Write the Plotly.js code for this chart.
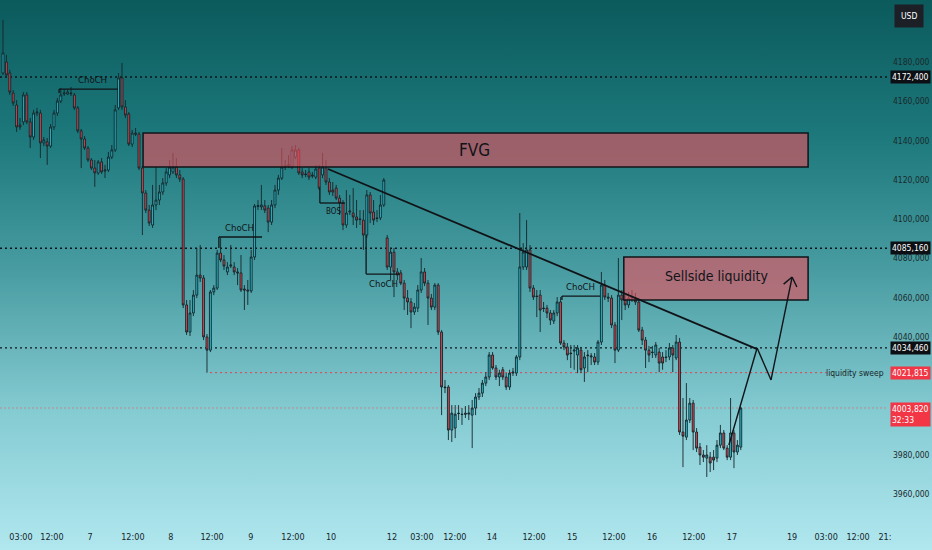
<!DOCTYPE html>
<html>
<head>
<meta charset="utf-8">
<script src="https://cdn.plot.ly/plotly-3.0.1.min.js"></script>
<style>
html,body{margin:0;padding:0;}
#chart{width:932px;height:550px;background:linear-gradient(180deg,#0b5a5c 0%,#1d797c 25%,#4a9ea3 50%,#85cbd2 75%,#b1e7ef 100%);}
</style>
</head>
<body>
<div id="chart"></div>
<script>
// ---- OHLC data (1h candles) ----
const opens = [4174.4,4180,4174.4,4164.2,4158.1,4147.9,4149.5,4163.2,4149.5,4141.8,4154,4154,4138.8,4139.3,4137.2,4146.9,4154,4160.1,4163.7,4163.7,
4164.2,4163.2,4156.6,4144.9,4140.8,4136.2,4130.1,4126,4123.5,4129.1,4124.5,4125,4131.6,4135.2,4156.6,4171.9,4157.1,4153.5,4138.2,4143.8,
4143.3,4126,4113.3,4104.6,4097,4107.2,4109.7,4113.8,4118.4,4122.5,4124,4126.5,4122.5,4120.4,4056.3,4042.5,4052.2,4061.3,4071.5,4070,
4040,4033.3,4062.9,4064.9,4082.7,4079.2,4073.1,4076.1,4075.6,4073.1,4072.6,4064.4,4063.9,4063.4,4080.7,4106.4,4106.2,4106.7,4105.6,4098.5,
4107.2,4114.8,4120.9,4126.5,4127.1,4126.5,4131.6,4135.2,4124,4123,4124,4122.5,4121.4,4126,4122.5,4126,4118.9,4114.8,4115.8,4110.7,
4108.2,4097,4103.6,4103.1,4101.1,4100.1,4099.5,4091.9,4112.3,4103.6,4100.6,4100.6,4107.2,4090.4,4075.6,4083.2,4073.1,4072.6,4067.4,4059.8,
4057.8,4052.7,4054.7,4063.9,4073.1,4067.4,4059.8,4055.2,4066.4,4042.5,4014.5,4014.5,3992.6,3993.6,4001.2,4000.7,4001.2,4000.7,4000.2,4003.8,
4009.4,4011.4,4016.5,4019.6,4030.8,4024.2,4019.6,4023.3,4019.6,4014.5,4021.6,4021.6,4029.8,4075.6,4075.6,4084.3,4064.9,4060.8,4061.3,4054.7,
4054.7,4052.2,4048.1,4052.2,4057.8,4036.9,4034.9,4031.8,4032.8,4030.8,4033.3,4024.2,4030.8,4029.8,4029.8,4027.2,4037.4,4066.4,4060.3,4059.8,
4046.1,4033.3,4061.3,4058.8,4056.3,4059.8,4059.8,4057.8,4043.5,4038.4,4033.3,4032.3,4030.8,4032.3,4029.8,4029.8,4029.8,4034.4,4029.3,4037.4,
3991.6,3989,3997.7,4006.3,3991.6,3983.9,3979.9,3978.3,3978.8,3978.8,3978.3,3984.9,3991.1,3983.4,3978.8,3991.1,3981.4,3983.9];
const highs = [4201.4,4183.6,4176,4165.7,4160.6,4151.5,4164.7,4164.7,4151.5,4155.6,4156.6,4155.6,4141.8,4141.3,4148.4,4155.6,4161.7,4166.8,4166.2,4166.2,
4167.3,4164.2,4157.6,4145.9,4142.3,4137.2,4131.1,4130.1,4130.1,4131.1,4127.6,4134.2,4137.7,4158.1,4174.4,4179.5,4160.6,4154.5,4145.4,4146.4,
4144.4,4127.1,4114.8,4107.2,4117.4,4126.5,4117.4,4120.9,4126,4130.1,4133.7,4131.1,4125,4121.4,4058.8,4058.8,4063.9,4085.3,4086.8,4071.5,
4041.5,4063.9,4066.4,4084.3,4090.4,4081.7,4078.1,4086.8,4078.1,4075.1,4081.7,4066.4,4069,4084.3,4107.7,4109.7,4117.4,4109.7,4107.2,4109.7,
4117.4,4122.5,4136.2,4130.1,4132.6,4137.2,4137.7,4136.2,4126,4125,4126,4124,4127.6,4127.6,4133.7,4130.1,4120.9,4118.9,4117.4,4112.3,
4109.7,4114.8,4112.3,4115.8,4109.7,4104.6,4104.6,4114.8,4113.8,4109.7,4104.6,4112.3,4120.9,4091.9,4085.3,4085.3,4075.1,4074.1,4069,4063.9,
4059.8,4057.3,4066.4,4080.2,4075.1,4069,4061.9,4067.4,4067.4,4043.5,4018.1,4015.5,4005.3,4005.3,4005.3,4003.8,4004.8,4005.3,4007.9,4011.4,
4014,4018.1,4022.1,4032.3,4032.3,4025.7,4023.3,4024.7,4021.6,4023.3,4024.2,4030.8,4103.1,4087.8,4099.5,4086.8,4066.4,4063.9,4063.9,4057.8,
4056.3,4053.7,4053.7,4060.3,4060.3,4038.4,4036.9,4035.9,4035.9,4035.9,4034.9,4032.3,4033.3,4031.8,4031.8,4038.4,4073.1,4069,4062.4,4061.3,
4047.6,4080.2,4063.9,4061.3,4062.9,4063.9,4062.4,4059.8,4045.1,4040,4035.4,4035.4,4037.4,4034.4,4032.3,4033.3,4036.9,4035.9,4041,4039.5,
4008.9,4016.5,4008.9,4007.9,3993.6,3986,3982.4,3984.9,3981.4,3982.4,3987.5,3995.2,3992.6,3984.9,4008.9,3992.6,3987.5,4004.3];
const lows = [4173.4,4171.9,4163.2,4157.6,4144.4,4145.4,4147.9,4148.4,4136.2,4140.3,4152.5,4131.1,4137.2,4127.6,4136.2,4145.4,4152.5,4159.1,4162.7,4163.2,
4162.7,4155.6,4143.8,4126,4135.2,4129.1,4125,4116.4,4122.5,4123,4120.9,4124,4130.6,4134.2,4155.6,4155.6,4151.5,4137.2,4136.7,4142.3,
4125,4091.9,4103.1,4096.5,4095.5,4104.6,4107.2,4112.3,4116.9,4120.9,4123,4120.9,4118.9,4054.7,4041,4040.5,4050.6,4059.8,4068,4038.4,
4021.8,4032.3,4061.3,4063.9,4078.1,4074.1,4071.5,4075.1,4071.5,4066.4,4062.9,4053.7,4056.3,4062.4,4079.2,4104.6,4104.6,4103.1,4093.4,4097,
4105.6,4112.3,4119.9,4125,4126,4125.5,4130.6,4122.5,4120.9,4121.4,4119.9,4120.9,4120.4,4114.8,4120.9,4117.4,4112.3,4111.8,4109.7,4102.1,
4094.4,4095.5,4102.1,4097,4095.5,4097,4084.3,4090.4,4098,4097,4098.5,4099.5,4106.2,4074.1,4069,4060.3,4069,4066.4,4053.7,4051.2,
4044.5,4051.2,4052.7,4062.4,4065.9,4046.1,4053.7,4053.7,4041,4000.2,4011.4,3987.5,3986.5,3988.5,3997.7,3995.2,3998.7,3997.7,3983.4,4000.2,
4007.9,4009.4,4015,4018.1,4023.3,4018.1,4015,4018.1,4013,4013,4020.1,4020.1,4028.2,4074.1,4074.1,4062.9,4058.8,4050.1,4042.5,4052.7,
4049.6,4046.1,4046.6,4050.6,4035.9,4033.3,4028.2,4024.2,4023.3,4021.6,4021.6,4017.1,4022.1,4025.7,4025.7,4025.7,4035.9,4058.8,4057.8,4044.5,
4026.7,4032.3,4048.6,4053.7,4054.7,4057.8,4056.3,4042.5,4035.9,4024.2,4027.2,4029.3,4029.3,4022.1,4023.3,4027.2,4028.2,4022.1,4028.2,3990.1,
3973.7,3987.5,3996.2,3982.4,3981.4,3974.8,3976.3,3968.7,3971.2,3972.2,3976.3,3983.4,3982.4,3977.3,3977.3,3973.2,3979.9,3982.4];
const closes = [4184.6,4173.4,4164.7,4159.1,4146.9,4146.9,4163.2,4149.5,4141.8,4154,4154.5,4138.8,4140.3,4137.2,4146.9,4154,4160.1,4163.2,4164.2,4164.7,
4163.9,4156.6,4144.9,4140.8,4136.2,4130.1,4126,4123.5,4129.1,4124,4125,4131.6,4135.2,4155.6,4171.9,4157.1,4153,4138.2,4143.8,4143.3,
4126,4113.3,4104.6,4098,4107.2,4109.7,4113.8,4118.4,4124,4126.5,4126.5,4122.5,4120.4,4056.3,4042.5,4052.2,4061.3,4071.5,4070,4040,
4033.3,4062.9,4064.9,4082.7,4079.2,4076.1,4075.6,4076.6,4073.1,4072.6,4063.9,4063.9,4063.4,4080.7,4106.7,4106.9,4107.2,4104.6,4098.5,4107.2,
4114.8,4120.9,4126.5,4127.1,4127.6,4135.2,4135.2,4123.5,4122.5,4122.7,4121.4,4122,4125.5,4115.8,4126.5,4118.9,4113.8,4113.8,4110.7,4108.2,
4097,4103.1,4104.1,4101.1,4099.5,4099.8,4091.9,4112.3,4103.1,4099.5,4100.3,4107.2,4119.9,4075.6,4083.2,4073.1,4071.5,4067.4,4059.8,4057.8,
4052.7,4055.2,4063.9,4073.1,4067.4,4059.8,4055.2,4066.4,4042.5,4014.5,4014.2,3992.6,4001.2,4000.7,4001,4000.5,4000.7,4001.2,4003.8,4009.4,
4011.4,4016.5,4019.6,4030.8,4024.2,4019.6,4021.6,4019.6,4014.5,4021.6,4022.1,4029.8,4075.6,4083.2,4084.3,4064.9,4060.3,4060.6,4053.7,4054.5,
4052.2,4048.6,4052.2,4057.8,4036.9,4034.9,4030.8,4031.5,4033.3,4034.4,4023.3,4029.8,4030.5,4030.3,4027.2,4037.4,4066.4,4060.3,4059.8,4046.1,
4033.3,4061.3,4058.8,4056.3,4059.8,4060.3,4057.8,4043.5,4038.4,4033.3,4030.8,4032.1,4035.9,4026.7,4026.7,4029.5,4034.4,4030.8,4037.4,3991.6,
3989.5,3997.7,4006.3,3991.6,3983.4,3979.9,3978.8,3979.9,3975.8,3977.3,3984.9,3991.1,3983.4,3978.8,3991.1,3981.4,3984.9,4003.8];

// ---- axis labels (only the ones visible in the picture) ----
const xTickIdx  = [5.3,14.4,25.6,38.2,49.4,61.5,72.9,85.3,96.5,114.4,123.2,132.9,143.8,156.2,167.4,179.7,190.9,203.2,214.4,232.1,242.1,251.5,259.4];
const xTickText = ['03:00','12:00','7','12:00','8','12:00','9','12:00','10','12','03:00','12:00','14','12:00','15','12:00','16','12:00','17','19','03:00','12:00','21:'];
const yTickVals = [3960,3980,4040,4060,4080,4100,4120,4140,4160,4180];

// ---- marked price levels ----
const blackLevels = [4172.4, 4085.16, 4034.46];
const sweepLevel = 4021.815;
const lastPrice = 4003.82;
const countdown = '32:33';

const idx = opens.map((_, i) => i);
const fmt = v => {
  const s = v.toFixed(3).split('.');
  return s[0] + ',' + s[1];
};

const FONT = "'DejaVu Sans Condensed','Liberation Sans',sans-serif";
const INK = '#101418';

const trace = {
  type: 'candlestick', x: idx, open: opens, high: highs, low: lows, close: closes,
  increasing: {line: {color: '#142529', width: 0.9}, fillcolor: '#26bdd0'},
  decreasing: {line: {color: '#142529', width: 0.9}, fillcolor: '#e0434f'},
  whiskerwidth: 0, hoverinfo: 'skip', showlegend: false
};

const shapes = [];
const dot = {color: INK, width: 1.4, dash: '2px,3px'};
blackLevels.forEach(v => shapes.push({type: 'line', xref: 'paper', x0: 0, x1: 1, yref: 'y', y0: v, y1: v, line: dot, layer: 'below'}));
shapes.push({type: 'line', xref: 'x', x0: 60.9, x1: 243.2, yref: 'y', y0: sweepLevel, y1: sweepLevel, line: {color: '#e0404c', width: 1, dash: '2px,3px'}, layer: 'below'});
shapes.push({type: 'line', xref: 'paper', x0: 0, x1: 1, yref: 'y', y0: lastPrice, y1: lastPrice, line: {color: 'rgba(236,80,92,0.55)', width: 1, dash: '2px,2px'}, layer: 'below'});
// FVG and Sellside liquidity zones
shapes.push({type: 'rect', xref: 'x', yref: 'y', x0: 41.2, x1: 236.8, y0: 4126.5, y1: 4143.8, fillcolor: 'rgba(238,78,92,0.6)', line: {color: INK, width: 1.5}});
shapes.push({type: 'rect', xref: 'x', yref: 'y', x0: 182.6, x1: 236.8, y0: 4058.8, y1: 4080.7, fillcolor: 'rgba(238,78,92,0.6)', line: {color: INK, width: 1.5}});
// trendline
shapes.push({type: 'line', xref: 'x', yref: 'y', x0: 95.6, y0: 4125.5, x1: 221.8, y1: 4033.8, line: {color: INK, width: 1.8}});
// projection path
const seg = (x0, y0, x1, y1, w) => shapes.push({type: 'line', xref: 'x', yref: 'y', x0, y0, x1, y1, line: {color: INK, width: w || 1.4}});
seg(213.5, 3985, 221.8, 4034.4);
seg(221.8, 4034.4, 225.9, 4018.1);
seg(225.9, 4018.1, 232.1, 4070.5);
seg(232.1, 4070.5, 229.6, 4066.9);
seg(232.1, 4070.5, 233.5, 4065.4);
// structure markers
seg(16.5, 4166.2, 33.8, 4166.2, 1.3); seg(16.5, 4166.2, 16.5, 4164.2, 1.3);
seg(63.5, 4090.9, 76.2, 4090.9, 1.3); seg(63.5, 4090.9, 63.5, 4085.3, 1.3);
seg(93.2, 4115.8, 93.2, 4108.2, 1.3); seg(93.2, 4108.2, 100.6, 4108.2, 1.3);
seg(106.8, 4091.9, 106.8, 4072.0, 1.3); seg(106.8, 4072.0, 116.8, 4072.0, 1.3);
seg(164.4, 4060.8, 175.6, 4060.8, 1.3); seg(164.4, 4060.8, 164.4, 4058.8, 1.3);

const txt = (x, y, t, size) => ({xref: 'x', yref: 'y', x, y, text: t, showarrow: false, font: {family: FONT, size: size, color: INK}});
const annotations = [
  txt(138.8, 4135.2, 'FVG', 17),
  txt(210, 4071.1, 'Sellside liquidity', 14),
  txt(26.2, 4171.3, 'ChoCH', 9.5),
  txt(69.7, 4095.5, 'ChoCH', 9.5),
  txt(97.1, 4104.1, 'BOS', 8),
  txt(111.8, 4067.4, 'ChoCH', 9.5),
  txt(170, 4065.9, 'ChoCH', 9.5),
  {xref: 'x', yref: 'y', x: 259.6, xanchor: 'right', y: sweepLevel, text: 'liquidity sweep', showarrow: false, font: {family: FONT, size: 8.5, color: '#16262a'}}
];
const priceBox = (v, bg, text, yanchor, yshift) => ({
  xref: 'paper', x: 1, xanchor: 'left', xshift: 2, yref: 'y', y: v, yanchor: yanchor || 'middle', yshift: yshift || 0,
  text: text, showarrow: false, align: 'left', bgcolor: bg, borderpad: 1,
  font: {family: FONT, size: 8.5, color: '#ffffff'}
});
blackLevels.forEach(v => annotations.push(priceBox(v, '#0c0f14', fmt(v))));
annotations.push(priceBox(sweepLevel, '#f23645', fmt(sweepLevel)));
annotations.push(priceBox(lastPrice, '#f23645', fmt(lastPrice) + '<br>' + countdown, 'top', 6));
annotations.push({xref: 'paper', yref: 'paper', x: 1, y: 1, xanchor: 'left', yanchor: 'top', xshift: 6, yshift: -4,
  text: 'USD', showarrow: false, bgcolor: '#1c1f26', borderpad: 6, font: {family: FONT, size: 8.5, color: '#ffffff'}});

const layout = {
  width: 932, height: 550,
  margin: {l: 0, r: 44, t: 0, b: 20},
  paper_bgcolor: 'rgba(0,0,0,0)', plot_bgcolor: 'rgba(0,0,0,0)',
  showlegend: false,
  boxgap: 0.2,
  xaxis: {range: [-0.88, 260.3], rangeslider: {visible: false}, showgrid: false, zeroline: false, showline: false,
    tickmode: 'array', tickvals: xTickIdx, ticktext: xTickText, ticks: '',
    tickfont: {family: FONT, size: 9, color: '#16262a'}},
  yaxis: {range: [3941.7, 4211.57], side: 'right', showgrid: false, zeroline: false, showline: false, ticks: '',
    tickmode: 'array', tickvals: yTickVals, ticktext: yTickVals.map(fmt), ticklabelstandoff: 4,
    tickfont: {family: FONT, size: 8.5, color: '#1a2a2c'}},
  shapes: shapes,
  annotations: annotations
};

Plotly.newPlot('chart', [trace], layout, {staticPlot: true, displayModeBar: false});
</script>
</body>
</html>
